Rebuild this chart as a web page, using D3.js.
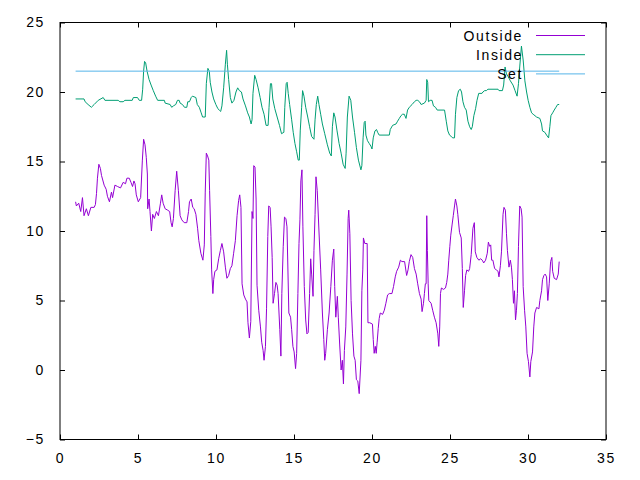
<!DOCTYPE html>
<html>
<head>
<meta charset="utf-8">
<title>Temperature</title>
<script src="https://d3js.org/d3.v7.min.js"></script>
<style>
  body { margin: 0; background: #fff; }
  svg text { font-family: "Liberation Sans", Arial, sans-serif; font-size: 14px; letter-spacing: 1.6px; fill: #000; }
  .axis path { display: none; }
  .axis line { stroke: #000; }
</style>
</head>
<body>
<div id="chart"></div>
<script>
// day of month (x) and temperature (y)
var outsideDays = [1.00,1.05,1.20,1.33,1.44,1.54,1.69,1.82,1.98,2.19,2.27,2.34,2.40,2.49,2.59,2.66,2.83,2.96,3.04,3.17,3.30,3.37,3.52,3.69,3.88,4.05,4.20,4.29,4.44,4.55,4.65,4.74,4.81,4.89,5.02,5.17,5.28,5.36,5.45,5.53,5.60,5.62,5.71,5.77,5.86,5.94,6.05,6.18,6.31,6.44,6.52,6.61,6.74,6.90,7.03,7.12,7.19,7.27,7.38,7.48,7.59,7.70,7.81,7.96,8.13,8.24,8.30,8.41,8.51,8.60,8.71,8.82,8.90,9.03,9.16,9.25,9.31,9.38,9.46,9.54,9.59,9.67,9.72,9.80,9.85,9.93,10.06,10.17,10.28,10.38,10.49,10.60,10.70,10.81,10.92,11.02,11.13,11.24,11.35,11.45,11.52,11.60,11.67,11.78,11.89,11.99,12.05,12.14,12.23,12.31,12.37,12.42,12.50,12.57,12.63,12.74,12.85,12.93,13.02,13.08,13.17,13.24,13.32,13.38,13.47,13.53,13.60,13.66,13.75,13.84,13.92,13.98,14.09,14.16,14.22,14.31,14.39,14.48,14.55,14.67,14.78,14.85,14.93,15.01,15.10,15.17,15.25,15.32,15.38,15.44,15.51,15.57,15.66,15.75,15.83,15.91,16.00,16.07,16.13,16.22,16.28,16.35,16.41,16.49,16.60,16.71,16.82,16.91,16.97,17.03,17.14,17.25,17.36,17.46,17.55,17.61,17.68,17.78,17.84,17.93,18.02,18.10,18.17,18.23,18.32,18.40,18.47,18.51,18.58,18.66,18.75,18.84,18.92,19.00,19.09,19.18,19.29,19.35,19.41,19.45,19.54,19.69,19.74,19.86,20.03,20.08,20.14,20.21,20.27,20.33,20.40,20.46,20.53,20.68,20.79,20.89,21.00,21.11,21.28,21.38,21.49,21.58,21.71,21.82,21.92,22.09,22.22,22.31,22.39,22.50,22.61,22.72,22.83,22.93,23.04,23.15,23.21,23.30,23.36,23.42,23.47,23.51,23.55,23.60,23.64,23.79,23.89,24.00,24.11,24.22,24.28,24.34,24.39,24.45,24.58,24.71,24.79,24.86,24.92,24.99,25.05,25.14,25.21,25.29,25.35,25.44,25.50,25.61,25.72,25.79,25.85,25.93,26.00,26.08,26.19,26.26,26.36,26.47,26.56,26.62,26.72,26.85,26.96,27.07,27.16,27.28,27.39,27.46,27.54,27.61,27.67,27.75,27.86,27.97,28.08,28.14,28.23,28.30,28.40,28.46,28.55,28.62,28.68,28.78,28.87,28.94,29.00,29.07,29.13,29.20,29.26,29.32,29.39,29.47,29.56,29.62,29.69,29.78,29.86,29.94,30.03,30.12,30.18,30.29,30.37,30.44,30.55,30.70,30.76,30.87,30.93,31.02,31.10,31.19,31.27,31.36,31.45,31.53,31.58,31.68,31.83,31.94,32.00];
var outsideTemps = [12.1,11.8,12.0,11.4,12.4,11.1,11.6,11.1,11.7,11.7,11.9,12.7,13.8,14.8,14.5,14.0,13.3,13.0,12.5,12.1,12.8,12.4,13.3,13.2,13.1,13.5,13.4,13.8,13.8,13.5,13.2,13.6,13.4,12.6,12.1,12.4,15.1,16.6,16.2,15.3,14.1,11.6,12.3,11.4,10.0,11.2,10.9,11.4,11.1,12.0,12.6,12.0,11.6,11.5,11.4,10.6,10.3,10.9,12.9,14.3,12.9,11.1,10.8,10.6,10.6,11.4,12.1,12.3,11.7,11.6,11.2,10.2,9.3,8.4,7.9,9.0,12.8,15.6,15.4,15.1,12.9,9.6,7.2,5.5,6.5,7.1,7.2,8.0,8.6,9.1,8.5,7.4,6.6,6.8,7.3,7.5,8.4,9.3,11.1,12.2,12.6,11.7,6.2,5.4,5.1,4.9,3.4,2.3,3.5,11.4,10.9,14.7,14.6,12.3,6.1,4.3,3.1,2.0,1.4,0.7,1.7,4.4,9.6,11.8,11.7,10.3,8.1,4.8,5.5,6.3,6.1,5.5,2.9,1.0,5.5,8.9,11.0,10.9,10.3,4.1,3.8,2.9,1.7,1.3,0.1,1.2,5.5,9.1,10.8,13.6,14.4,10.3,6.0,3.6,2.6,2.7,5.5,8.0,6.9,5.3,8.6,11.2,13.9,12.9,10.0,7.2,4.1,2.2,0.7,1.2,2.9,4.1,6.0,7.9,8.7,6.0,3.8,5.3,3.8,1.8,0.0,0.7,-1.0,1.4,3.1,6.9,10.9,11.5,9.8,5.0,2.6,1.0,0.7,-0.7,-0.8,-1.7,0.7,5.7,7.2,9.5,9.1,9.1,3.4,3.4,3.3,2.2,1.2,1.7,1.2,2.0,3.0,3.7,4.1,4.0,4.3,4.8,5.4,5.5,5.5,6.0,6.7,7.1,7.4,7.9,7.8,7.8,6.8,7.2,7.8,8.3,8.1,7.3,6.9,6.2,5.5,5.1,4.2,4.8,5.5,6.2,6.2,11.1,8.6,6.2,5.0,4.8,4.3,3.8,3.4,2.6,1.7,3.1,5.5,5.9,5.8,5.9,6.3,6.9,7.9,8.9,9.7,10.5,11.1,11.8,12.3,11.8,11.2,9.9,9.5,7.3,4.5,5.7,6.8,7.2,7.1,7.3,8.3,10.2,10.6,8.5,8.1,7.9,8.0,7.9,7.7,7.9,8.4,9.2,8.9,9.0,7.9,7.9,7.3,7.2,7.1,6.7,7.5,8.5,11.2,11.7,11.5,9.8,8.6,7.4,7.9,7.4,6.5,4.8,5.7,3.6,4.3,5.5,8.9,11.8,11.6,11.0,6.0,4.3,3.1,1.2,0.6,-0.5,0.6,1.3,3.1,4.1,4.5,4.4,5.0,5.7,6.5,6.8,6.9,6.7,5.0,6.2,7.8,8.1,7.1,6.6,6.5,6.9,7.8];

var insideDays = [1.00,1.54,1.61,1.80,2.01,2.19,2.45,2.77,2.88,3.73,3.84,4.05,4.16,4.63,4.70,4.97,5.08,5.23,5.30,5.36,5.42,5.49,5.58,5.71,5.84,5.98,6.13,6.26,6.69,6.74,7.06,7.16,7.27,7.42,7.53,7.64,7.70,7.85,7.98,8.13,8.19,8.30,8.41,8.49,8.71,8.80,8.93,9.05,9.14,9.31,9.38,9.48,9.57,9.63,9.74,9.85,9.99,10.12,10.21,10.30,10.38,10.49,10.60,10.68,10.73,10.81,10.92,11.02,11.15,11.28,11.39,11.50,11.63,11.73,11.89,12.03,12.14,12.25,12.31,12.37,12.48,12.57,12.70,12.83,12.95,13.08,13.21,13.34,13.40,13.49,13.56,13.64,13.77,13.92,14.07,14.20,14.35,14.41,14.50,14.56,14.63,14.72,14.85,14.95,15.06,15.17,15.27,15.34,15.40,15.49,15.55,15.64,15.75,15.88,16.00,16.13,16.28,16.35,16.43,16.52,16.60,16.71,16.82,16.97,17.14,17.29,17.39,17.46,17.55,17.63,17.76,17.89,18.02,18.15,18.28,18.34,18.42,18.53,18.64,18.75,18.88,19.00,19.13,19.29,19.35,19.43,19.50,19.56,19.61,19.71,19.82,19.93,20.00,20.08,20.19,20.29,20.36,20.46,21.11,21.17,21.32,21.54,21.64,21.75,21.86,21.96,22.07,22.18,22.28,22.39,22.57,22.72,22.83,22.93,23.04,23.15,23.36,23.47,23.51,23.57,23.62,23.73,23.85,23.94,24.07,24.18,24.65,24.76,24.86,24.97,25.08,25.18,25.29,25.35,25.44,25.55,25.66,25.74,25.83,25.93,26.04,26.15,26.26,26.36,26.43,26.53,26.64,26.73,26.84,27.05,27.11,27.22,27.33,27.43,28.08,28.14,28.36,28.44,28.53,28.62,28.73,28.87,29.04,29.17,29.30,29.39,29.47,29.58,29.69,29.80,29.91,30.01,30.12,30.23,30.33,30.55,30.76,30.87,30.93,31.08,31.19,31.32,31.40,31.47,31.58,31.68,31.79,31.90,32.00];
var insideTemps = [19.5,19.5,19.3,19.1,18.9,19.1,19.4,19.6,19.4,19.4,19.3,19.3,19.4,19.4,19.6,19.6,19.4,19.4,20.2,21.5,22.2,22.1,21.5,20.9,20.5,20.1,19.7,19.4,19.4,19.2,19.1,18.9,19.0,19.1,19.4,19.4,19.2,19.1,18.9,18.9,19.3,19.3,19.6,19.7,19.6,19.1,18.9,18.5,18.2,18.2,20.6,21.7,21.5,20.7,20.0,19.5,19.1,18.8,18.7,18.6,19.0,20.3,22.0,23.0,22.0,20.9,19.6,19.2,19.4,20.0,20.3,20.1,20.0,19.5,19.0,18.5,18.2,17.7,18.0,19.9,21.2,20.9,20.3,19.6,18.9,18.4,17.6,17.6,18.9,20.6,20.6,19.5,18.8,18.2,17.6,17.0,17.1,18.9,20.6,20.7,19.9,19.1,18.0,17.1,16.3,15.7,15.1,15.1,17.2,18.9,20.1,19.7,18.9,18.2,17.5,16.8,16.6,18.0,19.1,19.7,19.1,18.4,17.7,17.0,16.2,15.6,15.4,17.5,18.5,18.2,17.2,16.3,15.6,14.8,14.5,15.6,18.2,19.7,19.4,18.2,17.1,16.0,15.1,14.4,14.7,16.7,17.8,17.9,16.9,16.5,16.3,16.1,15.9,16.7,17.2,17.3,17.1,16.9,16.9,17.3,17.6,17.7,17.9,18.1,18.3,18.4,18.4,18.1,18.7,18.9,19.1,19.3,19.4,19.4,19.3,19.1,19.2,19.4,20.9,20.7,19.3,19.4,19.4,19.0,18.9,18.7,18.7,17.9,17.2,16.9,16.8,16.7,16.7,18.4,19.6,20.1,20.2,20.0,19.3,18.9,18.7,17.9,17.5,17.3,17.5,18.3,18.8,19.4,19.9,19.9,20.0,20.1,20.1,20.2,20.2,20.1,20.1,20.5,21.8,21.3,21.1,20.8,20.5,20.1,19.7,20.6,21.8,23.3,22.3,20.8,20.0,19.4,18.9,18.5,18.4,18.2,18.1,17.7,17.2,17.1,16.9,16.7,17.5,18.3,18.5,18.7,18.9,19.1,19.1];

var setDays = [1, 32];
var setTemps = [21.5, 21.5];

var xTicks = [0, 5, 10, 15, 20, 25, 30, 35];
var yTicks = [-5, 0, 5, 10, 15, 20, 25];

var seriesNames = ["Outside", "Inside", "Set"];
var seriesColors = ["#9400d3", "#009e73", "#56b4e9"];

var W = 640, H = 480;
var margin = {top: 22.5, right: 34, bottom: 40.5, left: 60};
var w = W - margin.left - margin.right,
    h = H - margin.top - margin.bottom;

var svg = d3.select("#chart").append("svg")
    .attr("width", W).attr("height", H);
var g = svg.append("g")
    .attr("transform", "translate(" + margin.left + "," + margin.top + ")");

var x = d3.scaleLinear().domain([0, 35]).range([0, w]);
var y = d3.scaleLinear().domain([-5, 25]).range([h, 0]);

// axes, ticks pointing inward, mirrored on top and right
g.append("g").attr("class", "axis")
    .attr("transform", "translate(0," + h + ")")
    .call(d3.axisBottom(x).tickValues(xTicks).tickSize(-5).tickPadding(14))
    .selectAll("text").attr("dy", "0.71em");
g.append("g").attr("class", "axis")
    .call(d3.axisTop(x).tickValues(xTicks).tickSize(-5).tickFormat(""));
g.append("g").attr("class", "axis")
    .call(d3.axisLeft(y).tickValues(yTicks).tickSize(-5).tickPadding(15));
g.append("g").attr("class", "axis")
    .attr("transform", "translate(" + w + ",0)")
    .call(d3.axisRight(y).tickValues(yTicks).tickSize(-5).tickFormat(""));
g.selectAll(".axis text").attr("fill", "#000").style("font-size", "14px")
    .style("font-family", "'Liberation Sans', Arial, sans-serif");

var line = d3.line().x(d => x(d[0])).y(d => y(d[1]));

var series = [
  d3.zip(outsideDays, outsideTemps),
  d3.zip(insideDays, insideTemps),
  d3.zip(setDays, setTemps)
];

series.forEach(function(s, i) {
  g.append("path")
    .datum(s)
    .attr("fill", "none")
    .attr("stroke", seriesColors[i])
    .attr("stroke-width", 1)
    .attr("d", line);
});

// legend
var legend = g.selectAll(".legend")
    .data(seriesNames)
  .enter().append("g")
    .attr("class", "legend")
    .attr("transform", (d, i) => "translate(0," + (13 + i * 19.2) + ")");
legend.append("line")
    .attr("x1", 476).attr("x2", 525)
    .attr("stroke", (d, i) => seriesColors[i]);
legend.append("text")
    .attr("x", 463)
    .attr("y", 5)
    .style("text-anchor", "end")
    .text(d => d);

// border
g.append("rect")
    .attr("width", w).attr("height", h)
    .attr("fill", "none").attr("stroke", "#000");
</script>
</body>
</html>
